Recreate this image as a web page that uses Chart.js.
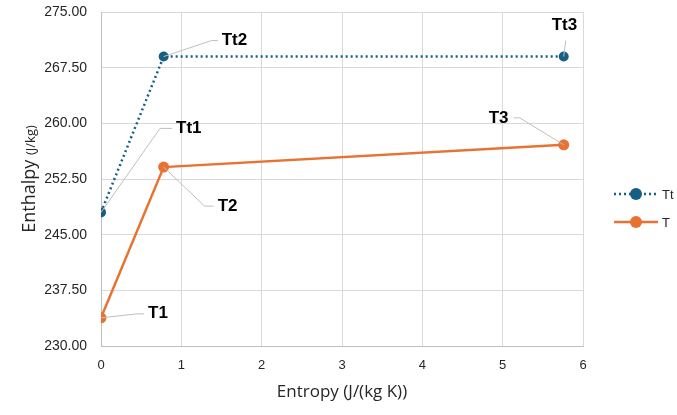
<!DOCTYPE html>
<html>
<head>
<meta charset="utf-8">
<script src="https://cdn.jsdelivr.net/npm/chart.js@4.4.1/dist/chart.umd.min.js"></script>
<style>
  html, body { margin: 0; padding: 0; background: #fff; }
  #wrap { width: 677px; height: 415px; }
</style>
</head>
<body>
<div id="wrap"><canvas id="chart"></canvas></div>
<script>
/* ===== DATA ===== */
const ttEntropy  = [0, 0.78, 5.76];
const ttEnthalpy = [248.0, 269.0, 269.0];
const ttLabels   = ["Tt1", "Tt2", "Tt3"];

const tEntropy  = [0, 0.78, 5.76];
const tEnthalpy = [233.8, 254.1, 257.1];
const tLabels   = ["T1", "T2", "T3"];

const xTicks = [0, 1, 2, 3, 4, 5, 6];
const yTicks = [230, 237.5, 245, 252.5, 260, 267.5, 275];

const seriesNames = ["Tt", "T"];

/* ===== STYLE ===== */
const BLUE = "#156082";
const ORANGE = "#E97132";
const GRID = "#d9d9d9";
const FONT = "'Liberation Sans', Arial, sans-serif";

// label placement: [dx, dy] of text start relative to point, with leader elbow
const tLabelPos = {
  Tt1: { elbow: [59, -84], text: [75, -84] },
  Tt2: { elbow: [48, -16], text: [58, -16] },
  Tt3: { elbow: [2, -16],  text: [-12, -31], vertical: true },
  T1:  { elbow: [37, -4],  text: [47, -4] },
  T2:  { elbow: [41, 39],  text: [54, 39] },
  T3:  { elbow: [-44, -27], text: [-75, -27] }
};

const toPts = (xs, ys) => xs.map((x, i) => ({ x, y: ys[i] }));

/* ===== PLUGIN: labels, titles, legend ===== */
const decor = {
  id: "decor",
  afterDatasetsDraw(chart) {
    const ctx = chart.ctx;
    const xs = chart.scales.x, ys = chart.scales.y;
    const groups = [[ttEntropy, ttEnthalpy, ttLabels], [tEntropy, tEnthalpy, tLabels]];
    ctx.save();
    groups.forEach(([ex, hy, labs]) => {
      labs.forEach((lab, i) => {
        const px = xs.getPixelForValue(ex[i]);
        const py = ys.getPixelForValue(hy[i]);
        const p = tLabelPos[lab];
        ctx.strokeStyle = "#bfbfbf";
        ctx.lineWidth = 1;
        ctx.beginPath();
        ctx.moveTo(px, py);
        ctx.lineTo(px + p.elbow[0], py + p.elbow[1]);
        if (!p.vertical) {
          const endX = p.text[0] > p.elbow[0] ? px + p.text[0] - 4 : px + p.elbow[0] - 6;
          ctx.lineTo(endX, py + p.elbow[1]);
        }
        ctx.stroke();
        ctx.fillStyle = "#000";
        ctx.font = "bold 17px " + FONT;
        ctx.textBaseline = "middle";
        ctx.textAlign = "left";
        ctx.fillText(lab, px + p.text[0], py + p.text[1]);
      });
    });

    // axis titles
    const area = chart.chartArea;
    ctx.fillStyle = "#262626";
    ctx.textBaseline = "middle";
    ctx.textAlign = "center";
    ctx.font = "17px 'Open Sans', sans-serif";
    ctx.fillText("Entropy (J/(kg K))", (area.left + area.right) / 2, 392);

    ctx.save();
    ctx.translate(30, (area.top + area.bottom) / 2);
    ctx.rotate(-Math.PI / 2);
    ctx.font = "18px 'Open Sans', sans-serif";
    const a = "Enthalpy ";
    const wa = ctx.measureText(a).width;
    ctx.font = "13px 'Open Sans', sans-serif";
    const b = "(J/kg)";
    const wb = ctx.measureText(b).width;
    let sx = -(wa + wb) / 2;
    ctx.textAlign = "left";
    ctx.font = "18px 'Open Sans', sans-serif";
    ctx.fillText(a, sx, 0);
    ctx.font = "13px 'Open Sans', sans-serif";
    ctx.fillText(b, sx + wa, 1);
    ctx.restore();

    // legend
    const colors = [BLUE, ORANGE];
    seriesNames.forEach((name, i) => {
      const y = 194 + i * 28;
      ctx.strokeStyle = colors[i];
      ctx.lineWidth = 2.5;
      ctx.setLineDash(i === 0 ? [2, 3] : []);
      ctx.beginPath();
      ctx.moveTo(614, y);
      ctx.lineTo(658, y);
      ctx.stroke();
      ctx.setLineDash([]);
      ctx.fillStyle = colors[i];
      ctx.beginPath();
      ctx.arc(636, y, 6, 0, Math.PI * 2);
      ctx.fill();
      ctx.fillStyle = "#262626";
      ctx.font = "13px " + FONT;
      ctx.textAlign = "left";
      ctx.fillText(name, 662, y + 1);
    });
    ctx.restore();
  }
};

/* ===== CHART ===== */
new Chart(document.getElementById("chart"), {
  type: "scatter",
  data: {
    datasets: [
      {
        label: seriesNames[0],
        data: toPts(ttEntropy, ttEnthalpy),
        showLine: true,
        borderColor: BLUE,
        backgroundColor: BLUE,
        borderWidth: 2.5,
        borderDash: [2, 3],
        pointRadius: 5,
        pointBorderWidth: 0
      },
      {
        label: seriesNames[1],
        data: toPts(tEntropy, tEnthalpy),
        showLine: true,
        borderColor: ORANGE,
        backgroundColor: ORANGE,
        borderWidth: 2.5,
        pointRadius: 5.5,
        pointBorderWidth: 0
      }
    ]
  },
  options: {
    responsive: true,
    maintainAspectRatio: false,
    animation: false,
    layout: { padding: { top: 12, right: 94, left: 0, bottom: 0 } },
    plugins: { legend: { display: false }, tooltip: { enabled: false } },
    scales: {
      x: {
        type: "linear",
        min: xTicks[0],
        max: xTicks[xTicks.length - 1],
        afterBuildTicks: s => { s.ticks = xTicks.map(v => ({ value: v })); },
        afterFit: s => { s.height = 69; s.paddingLeft = 0; s.paddingRight = 0; },
        grid: { color: GRID, drawTicks: false },
        border: { color: "#bfbfbf" },
        ticks: { color: "#262626", font: { size: 13, family: FONT }, padding: 12 }
      },
      y: {
        min: yTicks[0],
        max: yTicks[yTicks.length - 1],
        afterBuildTicks: s => { s.ticks = yTicks.map(v => ({ value: v })); },
        afterFit: s => { s.width = 101; s.paddingTop = 0; s.paddingBottom = 0; },
        grid: { color: GRID, drawTicks: false },
        border: { color: "#bfbfbf" },
        ticks: {
          color: "#262626",
          font: { size: 14, family: FONT },
          padding: 14,
          callback: v => v.toFixed(2)
        }
      }
    }
  },
  plugins: [decor]
});
</script>
</body>
</html>
